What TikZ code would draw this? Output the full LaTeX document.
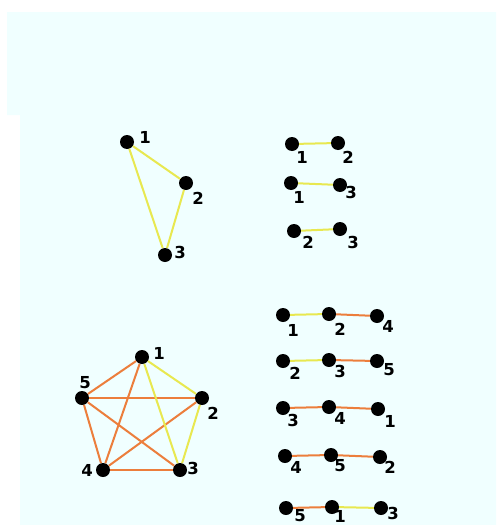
\documentclass[tikz,border=0pt]{standalone}
\usepackage{fontspec}
\setmainfont{DejaVu Sans}
\usepackage{tikz}
\definecolor{sfondo}{HTML}{F0FFFF}
\definecolor{giallo}{HTML}{E8E850}
\definecolor{arancio}{HTML}{EC7E3C}

\begin{document}
\begin{tikzpicture}[x=1pt, y=-1pt,
  vertice/.style={circle, fill=black, inner sep=0pt, minimum size=14pt},
  numero/.style={font=\bfseries\fontsize{16.5}{16.5}\selectfont, inner sep=0pt},
  lg/.style={giallo, line width=2pt},
  la/.style={arancio, line width=2pt}]
  \useasboundingbox (0,0) rectangle (496,525);

  % Sfondo
  \fill[sfondo] (7,12) -- (496,12) -- (496,525) -- (20,525)
    -- (20,115) -- (7,115) -- cycle;

  % Triangolo
  \node[vertice] (t1) at (127,142) {};
  \node[vertice] (t2) at (186,183) {};
  \node[vertice] (t3) at (165,255) {};
  \draw[lg] (t1) -- (t2) -- (t3) -- (t1);
  \node[numero] (nt1) at (145,137) {1};
  \node[numero] (nt2) at (198,198) {2};
  \node[numero] (nt3) at (180,252) {3};

  % Coppie
  \node[vertice] (a1) at (292,144) {};
  \node[vertice] (a2) at (338,143) {};
  \draw[lg] (a1) -- (a2);
  \node[numero] (na1) at (302,157) {1};
  \node[numero] (na2) at (348,157) {2};

  \node[vertice] (b1) at (291,183) {};
  \node[vertice] (b3) at (340,185) {};
  \draw[lg] (b1) -- (b3);
  \node[numero] (nb1) at (299,197) {1};
  \node[numero] (nb3) at (351,192) {3};

  \node[vertice] (c2) at (294,231) {};
  \node[vertice] (c3) at (340,229) {};
  \draw[lg] (c2) -- (c3);
  \node[numero] (nc2) at (308,242) {2};
  \node[numero] (nc3) at (353,242) {3};

  % Grafo completo K5
  \node[vertice] (k1) at (142,357) {};
  \node[vertice] (k2) at (202,398) {};
  \node[vertice] (k3) at (180,470) {};
  \node[vertice] (k4) at (103,470) {};
  \node[vertice] (k5) at (82,398) {};
  \draw[la] (k1) -- (k5);
  \draw[la] (k1) -- (k4);
  \draw[la] (k5) -- (k2);
  \draw[la] (k5) -- (k4);
  \draw[la] (k5) -- (k3);
  \draw[la] (k2) -- (k4);
  \draw[la] (k4) -- (k3);
  \draw[lg] (k1) -- (k2);
  \draw[lg] (k1) -- (k3);
  \draw[lg] (k2) -- (k3);
  \node[numero] (nk1) at (159,353) {1};
  \node[numero] (nk2) at (213,413) {2};
  \node[numero] (nk3) at (193,468) {3};
  \node[numero] (nk4) at (87,470) {4};
  \node[numero] (nk5) at (85,383) {5};

  % Terne
  \node[vertice] (d1) at (283,315) {};
  \node[vertice] (d2) at (329,314) {};
  \node[vertice] (d4) at (377,316) {};
  \draw[lg] (d1) -- (d2);
  \draw[la] (d2) -- (d4);
  \node[numero] (nd1) at (293,330) {1};
  \node[numero] (nd2) at (340,329) {2};
  \node[numero] (nd4) at (388,326) {4};

  \node[vertice] (e2) at (283,361) {};
  \node[vertice] (e3) at (329,360) {};
  \node[vertice] (e5) at (377,361) {};
  \draw[lg] (e2) -- (e3);
  \draw[la] (e3) -- (e5);
  \node[numero] (ne2) at (295,373) {2};
  \node[numero] (ne3) at (340,371) {3};
  \node[numero] (ne5) at (389,370) {5};

  \node[vertice] (f3) at (283,408) {};
  \node[vertice] (f4) at (329,407) {};
  \node[vertice] (f1) at (378,409) {};
  \draw[la] (f3) -- (f4);
  \draw[la] (f4) -- (f1);
  \node[numero] (nf3) at (293,420) {3};
  \node[numero] (nf4) at (340,418) {4};
  \node[numero] (nf1) at (390,421) {1};

  \node[vertice] (g4) at (285,456) {};
  \node[vertice] (g5) at (331,455) {};
  \node[vertice] (g2) at (380,457) {};
  \draw[la] (g4) -- (g5);
  \draw[la] (g5) -- (g2);
  \node[numero] (ng4) at (296,467) {4};
  \node[numero] (ng5) at (340,466) {5};
  \node[numero] (ng2) at (390,467) {2};

  \node[vertice] (h5) at (286,508) {};
  \node[vertice] (h1) at (332,507) {};
  \node[vertice] (h3) at (381,508) {};
  \draw[la] (h5) -- (h1);
  \draw[lg] (h1) -- (h3);
  \node[numero] (nh5) at (300,516) {5};
  \node[numero] (nh1) at (340,516) {1};
  \node[numero] (nh3) at (393,513) {3};
\end{tikzpicture}
\end{document}
